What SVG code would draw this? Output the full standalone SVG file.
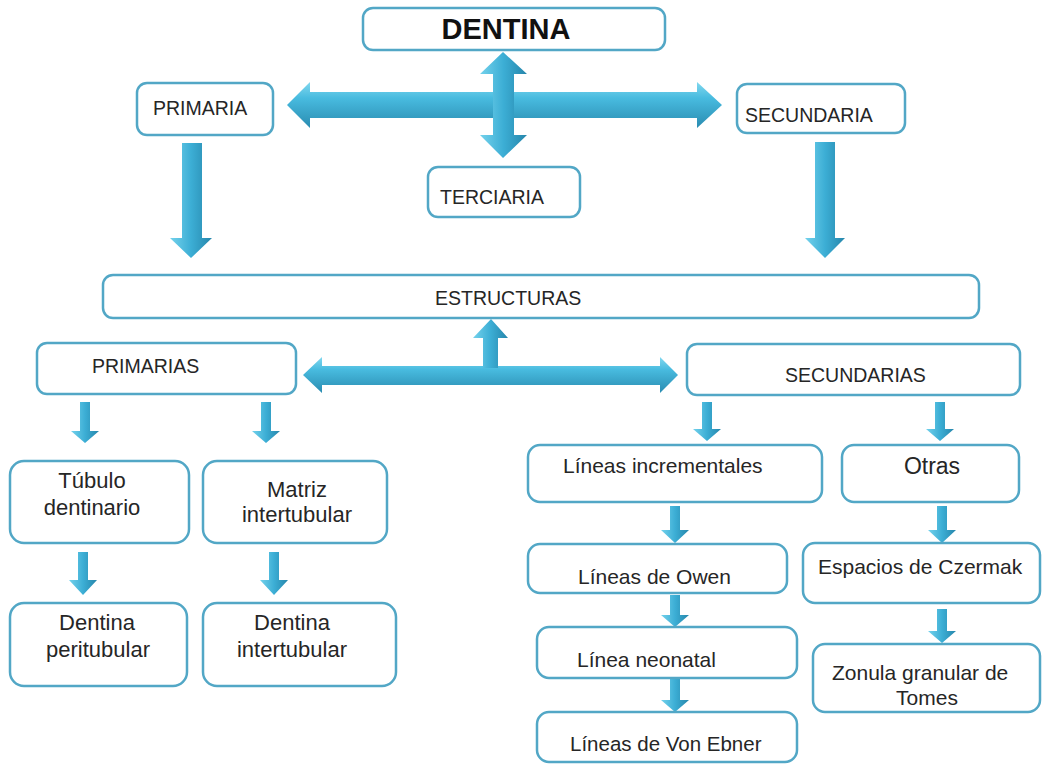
<svg xmlns="http://www.w3.org/2000/svg" width="1043" height="764" viewBox="0 0 1043 764">
<defs>
<linearGradient id="gH" x1="0" y1="0" x2="0" y2="1">
<stop offset="0" stop-color="#82d8ef"/>
<stop offset="0.35" stop-color="#48bbdf"/>
<stop offset="1" stop-color="#2a8cb1"/>
</linearGradient>
<linearGradient id="gV" x1="0" y1="0" x2="1" y2="0">
<stop offset="0" stop-color="#74d2ec"/>
<stop offset="0.5" stop-color="#3caed5"/>
<stop offset="1" stop-color="#2686ab"/>
</linearGradient>
<style>
.box{fill:#ffffff;stroke:#52a7c6;stroke-width:2.5}
.t{font-family:"Liberation Sans",Arial,sans-serif;fill:#262626}
.cap{font-size:19.5px}
.low{font-size:21px}
.big{font-size:22px}
.c{text-anchor:middle}
.ah{fill:url(#gH)}
.av{fill:url(#gV)}
</style>
</defs>
<g id="connectors">
<polygon class="ah" points="287,105 310,82 310,92 697,92 697,82 722,105 697,128 697,118 310,118 310,128"/>
<polygon class="av" points="503,52 527,74 514,74 514,135 527,135 503,158 480,135 493,135 493,74 480,74"/>
<polygon class="av" points="182,143 202,143 202,238 212,238 191,258 170,238 182,238"/>
<polygon class="av" points="815,142 835,142 835,238 845,238 825,258 805,238 815,238"/>
<polygon class="ah" points="303,375 322,357 322,366 660,366 660,357 678,375 660,393 660,385 322,385 322,393"/>
<polygon class="av" points="491,319 508,338 498,338 498,368 483,368 483,338 473,338"/>
<polygon class="av" points="80,402 90,402 90,431 99,431 85,443 71,431 80,431"/>
<polygon class="av" points="261,402 271,402 271,431 280,431 266,443 252,431 261,431"/>
<polygon class="av" points="702,402 712,402 712,429 721,429 707,441 693,429 702,429"/>
<polygon class="av" points="935,402 945,402 945,429 954,429 940,441 926,429 935,429"/>
<polygon class="av" points="78,552 88,552 88,580 97,580 83,595 69,580 78,580"/>
<polygon class="av" points="269,552 279,552 279,580 288,580 274,595 260,580 269,580"/>
<polygon class="av" points="670,506 680,506 680,530 689,530 675,543 661,530 670,530"/>
<polygon class="av" points="670,595 680,595 680,615 689,615 675,627 661,615 670,615"/>
<polygon class="av" points="670,679 680,679 680,700 689,700 675,712 661,700 670,700"/>
<polygon class="av" points="937,506 947,506 947,530 956,530 942,543 928,530 937,530"/>
<polygon class="av" points="937,609 947,609 947,631 956,631 942,643 928,631 937,631"/>
</g>
<g id="dentina"><rect class="box" x="363" y="8" width="302" height="42" rx="10"/><text class="t c" x="506" y="39" style="font-size:29px;font-weight:bold;fill:#111">DENTINA</text></g>
<g id="primaria"><rect class="box" x="137" y="83" width="136" height="52" rx="10"/><text class="t cap" x="153" y="115">PRIMARIA</text></g>
<g id="secundaria"><rect class="box" x="737" y="84" width="168" height="49" rx="10"/><text class="t cap" x="745" y="122">SECUNDARIA</text></g>
<g id="terciaria"><rect class="box" x="428" y="167" width="152" height="50" rx="10"/><text class="t cap" x="440" y="204">TERCIARIA</text></g>
<g id="estructuras"><rect class="box" x="103" y="275" width="876" height="43" rx="10"/><text class="t cap" x="435" y="305">ESTRUCTURAS</text></g>
<g id="primarias"><rect class="box" x="37" y="343" width="259" height="51" rx="10"/><text class="t cap" x="92" y="373">PRIMARIAS</text></g>
<g id="secundarias"><rect class="box" x="687" y="344" width="333" height="51" rx="10"/><text class="t cap" x="785" y="382">SECUNDARIAS</text></g>
<g id="tubulo"><rect class="box" x="10" y="461" width="179" height="82" rx="14"/><text class="t big c" x="92" y="488">Túbulo</text><text class="t big c" x="92" y="515">dentinario</text></g>
<g id="matriz"><rect class="box" x="203" y="461" width="184" height="82" rx="14"/><text class="t big c" x="297" y="497">Matriz</text><text class="t big c" x="297" y="522">intertubular</text></g>
<g id="peritubular"><rect class="box" x="10" y="603" width="177" height="83" rx="14"/><text class="t big c" x="97" y="630">Dentina</text><text class="t big c" x="98" y="657">peritubular</text></g>
<g id="intertubular"><rect class="box" x="203" y="603" width="193" height="83" rx="14"/><text class="t big c" x="292" y="630">Dentina</text><text class="t big c" x="292" y="657">intertubular</text></g>
<g id="incrementales"><rect class="box" x="528" y="445" width="294" height="57" rx="12"/><text class="t low" x="563" y="473">Líneas incrementales</text></g>
<g id="otras"><rect class="box" x="842" y="445" width="177" height="57" rx="12"/><text class="t c" x="932" y="474" style="font-size:23px">Otras</text></g>
<g id="owen"><rect class="box" x="528" y="544" width="259" height="49" rx="12"/><text class="t low" x="578" y="584">Líneas de Owen</text></g>
<g id="neonatal"><rect class="box" x="537" y="627" width="260" height="51" rx="12"/><text class="t low" x="577" y="667">Línea neonatal</text></g>
<g id="vonebner"><rect class="box" x="537" y="712" width="260" height="50" rx="12"/><text class="t" x="570" y="751" style="font-size:20.5px">Líneas de Von Ebner</text></g>
<g id="czermak"><rect class="box" x="803" y="543" width="237" height="60" rx="12"/><text class="t low" x="818" y="574">Espacios de Czermak</text></g>
<g id="zonula"><rect class="box" x="813" y="644" width="227" height="68" rx="12"/><text class="t low" x="832" y="680">Zonula granular de</text><text class="t low c" x="927" y="705">Tomes</text></g>
</svg>
